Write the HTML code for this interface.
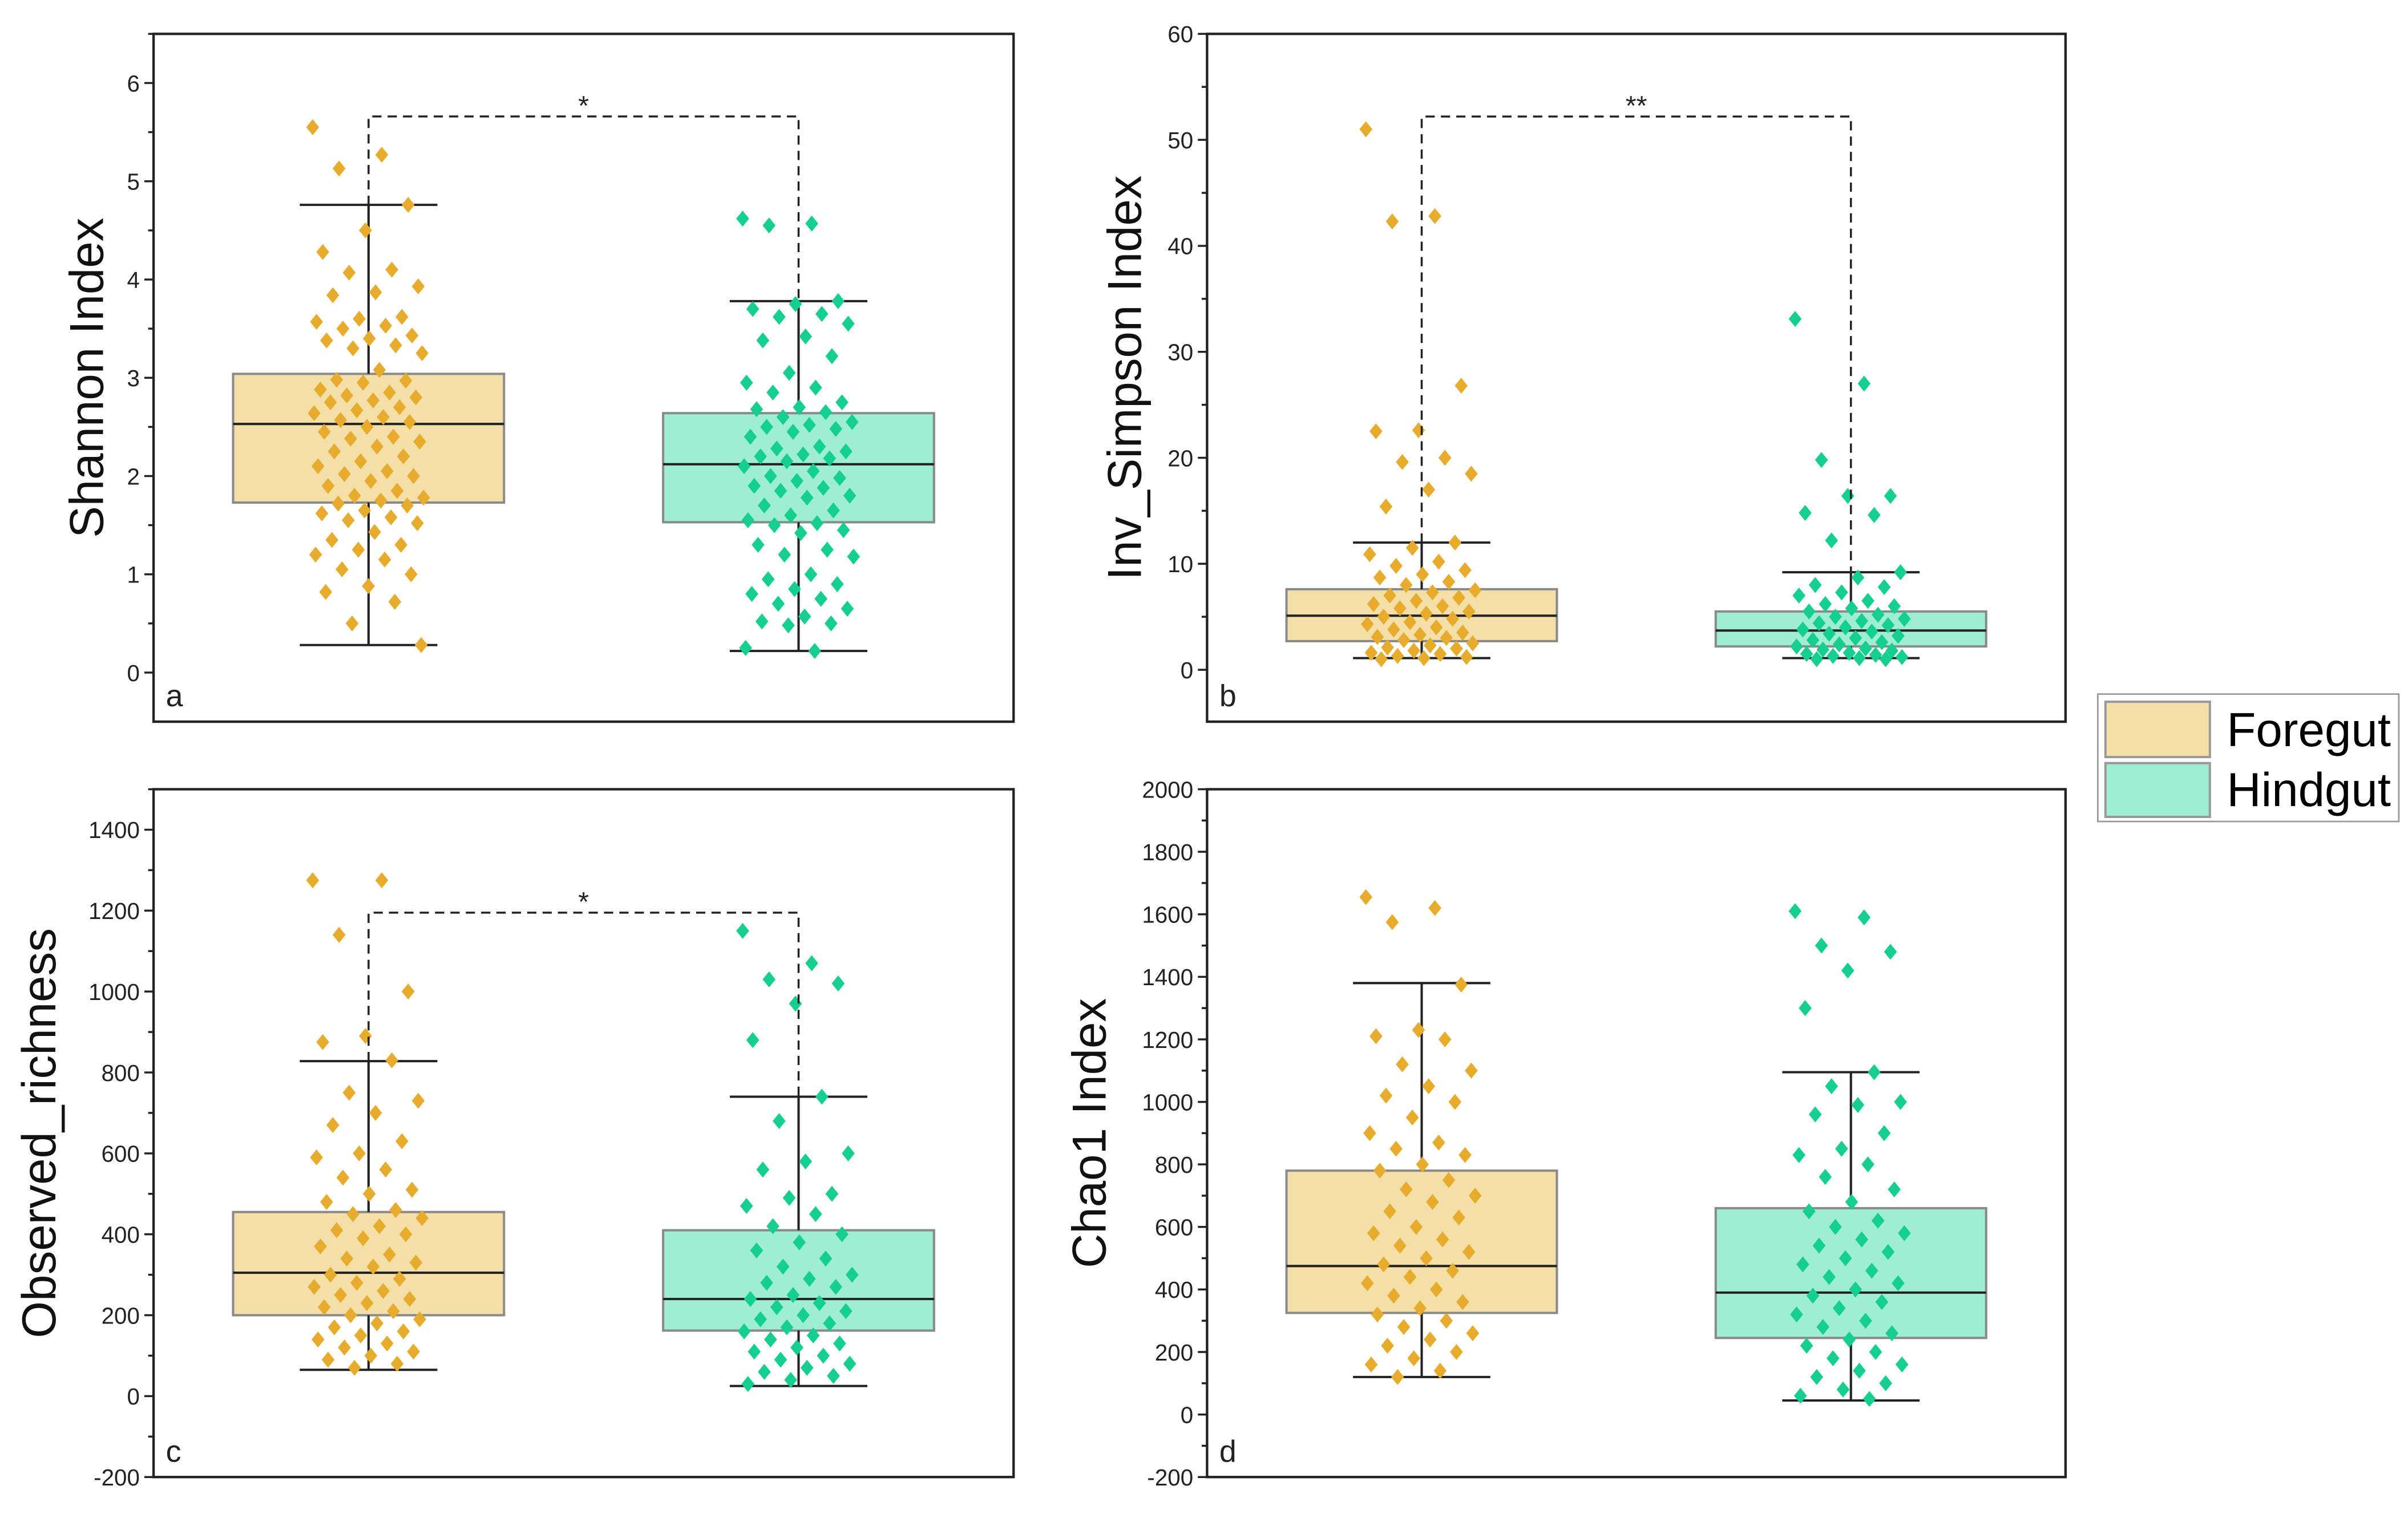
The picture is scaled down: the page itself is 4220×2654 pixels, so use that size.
<!DOCTYPE html>
<html><head><meta charset="utf-8"><style>html,body{margin:0;padding:0;background:#fff}svg{display:block}</style></head>
<body>
<svg id="fig" xmlns="http://www.w3.org/2000/svg" width="4220" height="2654" viewBox="0 0 1568 986" font-family="'Liberation Sans', Arial, sans-serif">
<rect width="1568" height="986" fill="#fff"/>
<g>
<rect x="1366" y="452" width="196" height="83" fill="#fff" stroke="#999" stroke-width="1"/>
<rect x="1371" y="457" width="68" height="36" fill="#f4dfa8" stroke="#999" stroke-width="1.5"/>
<text x="1450" y="486" font-size="31">Foregut</text>
<rect x="1371" y="497" width="68" height="35" fill="#9eeed3" stroke="#999" stroke-width="1.5"/>
<text x="1450" y="525" font-size="31">Hindgut</text>
</g>
</svg>
<script>
const categories = ["Foregut","Hindgut"];
// Panel a: Shannon
const shannonForegut = [5.55,5.27,5.13,4.76,4.5,4.28,4.1,4.07,3.93,3.87,3.84,3.62,3.6,3.57,3.53,3.5,3.43,3.4,3.38,3.33,3.3,3.25,3.08,2.98,2.97,2.95,2.88,2.85,2.82,2.8,2.77,2.75,2.7,2.67,2.64,2.6,2.57,2.55,2.5,2.45,2.4,2.38,2.35,2.3,2.25,2.2,2.15,2.1,2.05,2.02,2.0,1.95,1.9,1.85,1.8,1.78,1.75,1.72,1.7,1.65,1.62,1.58,1.55,1.52,1.43,1.35,1.3,1.25,1.2,1.15,1.05,1.0,0.88,0.82,0.72,0.5,0.28];
const shannonHindgut = [4.62,4.57,4.55,3.78,3.75,3.7,3.65,3.62,3.55,3.42,3.38,3.22,3.05,2.95,2.9,2.85,2.75,2.7,2.68,2.65,2.6,2.55,2.52,2.5,2.48,2.45,2.4,2.3,2.28,2.25,2.22,2.2,2.18,2.15,2.1,2.05,2.0,1.98,1.95,1.9,1.88,1.85,1.8,1.78,1.7,1.65,1.6,1.55,1.52,1.5,1.45,1.42,1.3,1.25,1.2,1.18,1.0,0.95,0.9,0.85,0.8,0.75,0.7,0.65,0.57,0.52,0.5,0.48,0.25,0.22];
const shannonBoxes = [[0.28,1.73,2.53,3.04,4.76],[0.22,1.53,2.12,2.64,3.78]];
const shannonTicks = [0,1,2,3,4,5,6];
// Panel b: Inv_Simpson
const simpsonForegut = [51,42.8,42.3,26.8,22.6,22.5,20,19.6,18.5,17,15.4,12,11.5,10.9,10.2,9.8,9.4,9,8.7,8.3,8,7.5,7.3,7,6.8,6.5,6.2,6,5.8,5.5,5.3,5,4.8,4.5,4.3,4,3.8,3.5,3.3,3.1,3,2.8,2.5,2.3,2.1,2,1.8,1.6,1.5,1.3,1.2,1.1,1.0];
const simpsonHindgut = [33.1,27,19.8,16.4,16.4,14.8,14.6,12.2,9.2,8.7,8,7.8,7.3,7,6.5,6.2,6,5.8,5.5,5.2,5,4.8,4.6,4.4,4.2,4,3.8,3.6,3.4,3.2,3,2.8,2.6,2.4,2.2,2,1.9,1.8,1.6,1.5,1.4,1.3,1.2,1.1,1.0,1.0];
const simpsonBoxes = [[1.1,2.7,5.1,7.6,12],[1.1,2.2,3.7,5.5,9.2]];
const simpsonTicks = [0,10,20,30,40,50,60];
// Panel c: Observed richness
const richForegut = [1275,1275,1140,1000,890,875,830,750,730,700,670,630,600,590,560,540,510,500,480,460,450,440,420,410,400,390,370,350,340,330,320,300,290,280,270,260,250,240,230,220,210,200,190,180,170,160,150,140,130,120,110,100,90,80,70];
const richHindgut = [1150,1070,1030,1020,970,880,740,680,600,580,560,500,490,470,450,420,400,380,360,340,320,300,290,280,270,250,240,230,220,210,200,190,180,170,160,150,140,130,120,110,100,90,80,70,60,50,40,30];
const richBoxes = [[65,200,305,455,828],[25,162,240,410,740]];
const richTicks = [-200,0,200,400,600,800,1000,1200,1400];
// Panel d: Chao1
const chaoForegut = [1655,1620,1575,1375,1230,1210,1200,1120,1100,1050,1020,1000,950,900,870,850,830,800,780,750,720,700,680,650,630,600,580,560,540,520,500,480,460,440,420,400,380,360,340,320,300,280,260,240,220,200,180,160,140,120];
const chaoHindgut = [1610,1590,1500,1480,1420,1300,1095,1050,1000,990,960,900,850,830,800,760,720,680,650,620,600,580,560,540,520,500,480,460,440,420,400,380,360,340,320,300,280,260,240,220,200,180,160,140,120,100,80,60,50];
const chaoBoxes = [[120,325,475,780,1380],[45,245,390,660,1095]];
const chaoTicks = [-200,0,200,400,600,800,1000,1200,1400,1600,1800,2000];

const NS="http://www.w3.org/2000/svg";
const svg=document.getElementById('fig');
function mk(tag,attrs,parent){const e=document.createElementNS(NS,tag);for(const k in attrs)e.setAttribute(k,attrs[k]);(parent||svg).appendChild(e);return e;}
const fills=["#f4dfa8","#9eeed3"], pts=["#e8ac2c","#14cf8d"];

function panel(o){
  const g=mk('g',{});
  
  
  const X=v=>o.x0+(v-0.5)/2*(o.x1-o.x0);
  const Y=v=>o.y1-(v-o.ymin)/(o.ymax-o.ymin)*(o.y1-o.y0);
  const step=o.ticks[1]-o.ticks[0];
  for(let t=o.ticks[0];t<=o.ymax+1e-9;t+=step/2){
    const major=o.ticks.some(v=>Math.abs(v-t)<1e-9);
    const tk=mk('line',{x1:o.x0,x2:o.x0-(major?6:3.5),y1:Y(t),y2:Y(t),stroke:'#222','stroke-width':1.3},g);
    
    
  }
  o.ticks.forEach(t=>{
    const tl=mk('text',{x:o.x0-9,y:Y(t)+5.5,'font-size':15,'text-anchor':'end',fill:'#222'},g);
    
    
    tl.textContent=t;
  });
  o.boxes.forEach((b,i)=>{
    const cx=X(i+1), hw=(X(1.315)-X(1)), cw=(X(1.16)-X(1));
    const r=mk('rect',{x:cx-hw,y:Y(b[3]),width:2*hw,height:Y(b[1])-Y(b[3]),fill:fills[i],stroke:'#8a8a8a','stroke-width':1.5},g);
    
    
    const w=mk('path',{d:`M${cx},${Y(b[0])}V${Y(b[1])}M${cx},${Y(b[3])}V${Y(b[4])}M${cx-cw},${Y(b[0])}H${cx+cw}M${cx-cw},${Y(b[4])}H${cx+cw}`,stroke:'#222','stroke-width':1.5,fill:'none'},g);
    
    
    const m=mk('line',{x1:cx-hw,x2:cx+hw,y1:Y(b[2]),y2:Y(b[2]),stroke:'#222','stroke-width':1.5},g);
    
    
  });
  o.series.forEach((s,i)=>{
    s.forEach((v,k)=>{
      const j=(((k*0.6180339)%1)-0.5)*0.26;
      const px=X(i+1+j), py=Y(v);
      const d=mk('path',{d:`M${px},${py-5.2}L${px+4.2},${py}L${px},${py+5.2}L${px-4.2},${py}Z`,fill:pts[i]},g);
      
      
    });
  });
  if(o.sig){
    const by=Y(o.sigY);
    const br=mk('path',{d:`M${X(1)},${Y(o.boxes[0][4])}V${by}H${X(2)}V${Y(o.boxes[1][4])}`,stroke:'#222','stroke-width':1.3,fill:'none','stroke-dasharray':'6,4'},g);
    
    
    const st=mk('text',{x:(X(1)+X(2))/2,y:by-1,'font-size':18,'text-anchor':'middle',fill:'#222'},g);
    
    
    st.textContent=o.sig;
  }
  const fr=mk('rect',{x:o.x0,y:o.y0,width:o.x1-o.x0,height:o.y1-o.y0,fill:'none',stroke:'#222','stroke-width':1.6},g);
  
  
  const lt=mk('text',{x:o.x0+8,y:o.y1-10,'font-size':20,fill:'#222'},g);
  
  
  lt.textContent=o.letter;
  const cy=(o.y0+o.y1)/2;
  const at=mk('text',{x:o.titleX,y:cy,'font-size':31,'text-anchor':'middle',fill:'#111',transform:`rotate(-90 ${o.titleX} ${cy})`},g);
  
  
  at.textContent=o.title;
}
panel({letter:'a',x0:100,x1:660,y0:22,y1:470,ymin:-0.5,ymax:6.5,ticks:shannonTicks,boxes:shannonBoxes,series:[shannonForegut,shannonHindgut],sig:'*',sigY:5.66,title:'Shannon Index',titleX:67});
panel({letter:'b',x0:786,x1:1345,y0:22,y1:470,ymin:-4.9,ymax:60,ticks:simpsonTicks,boxes:simpsonBoxes,series:[simpsonForegut,simpsonHindgut],sig:'**',sigY:52.2,title:'Inv_Simpson Index',titleX:743});
panel({letter:'c',x0:100,x1:660,y0:514,y1:962,ymin:-200,ymax:1500,ticks:richTicks,boxes:richBoxes,series:[richForegut,richHindgut],sig:'*',sigY:1195,title:'Observed_richness',titleX:36});
panel({letter:'d',x0:786,x1:1345,y0:514,y1:962,ymin:-200,ymax:2000,ticks:chaoTicks,boxes:chaoBoxes,series:[chaoForegut,chaoHindgut],sig:null,title:'Chao1 Index',titleX:720});
</script>
</body></html>
